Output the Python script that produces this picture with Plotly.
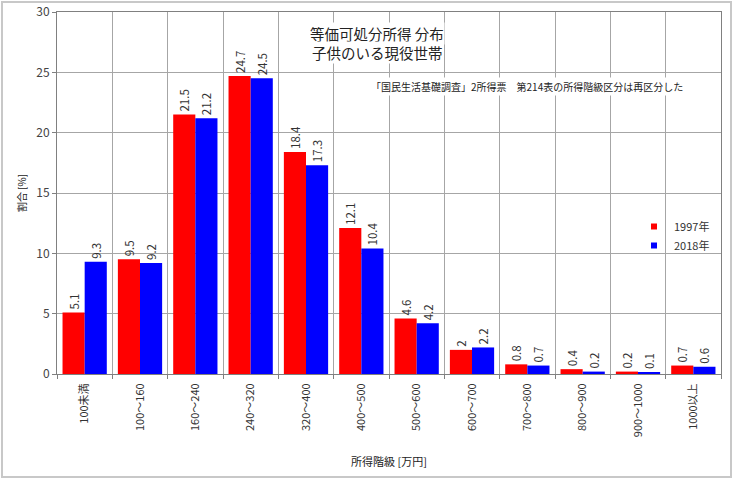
import plotly.graph_objects as go

categories = ["100未満", "100～160", "160～240", "240～320", "320～400", "400～500",
              "500～600", "600～700", "700～800", "800～900", "900～1000", "1000以上"]
values_1997 = [5.1, 9.5, 21.5, 24.7, 18.4, 12.1, 4.6, 2, 0.8, 0.4, 0.2, 0.7]
values_2018 = [9.3, 9.2, 21.2, 24.5, 17.3, 10.4, 4.2, 2.2, 0.7, 0.2, 0.1, 0.6]
series_names = ["1997年", "2018年"]
y_ticks = [0, 5, 10, 15, 20, 25, 30]

FONT = "Noto Sans CJK JP, Liberation Sans, sans-serif"
W, H = 734, 480
ML, MR, MT, MB = 57, 13, 12, 106
PW, PH = W - ML - MR, H - MT - MB

colors = ["#ff0000", "#0000ff"]

fig = go.Figure()
for name, vals, col in zip(series_names, [values_1997, values_2018], colors):
    fig.add_trace(go.Bar(
        x=categories, y=vals, name=name, marker_color=col,
        marker_line_width=0, showlegend=False,
        text=[f"{v:g}" for v in vals], textposition="outside",
        textangle=-90, constraintext="none", cliponaxis=False,
        textfont=dict(size=11.5, color="#333333", family=FONT),
    ))
# legend entries (small square swatches)
for name, col in zip(series_names, colors):
    fig.add_trace(go.Scatter(
        x=[None], y=[None], mode="markers", name=name,
        marker=dict(symbol="square", size=6, color=col),
    ))

def px_to_paper_x(px):
    return (px - ML) / PW

def px_to_paper_y(py):
    return (H - MB - py) / PH

fig.update_layout(
    width=W, height=H,
    margin=dict(l=ML, r=MR, t=MT, b=MB, autoexpand=False),
    paper_bgcolor="white", plot_bgcolor="white",
    barmode="group", bargap=0.2, bargroupgap=0,
    font=dict(family=FONT, color="#333333"),
    showlegend=True,
    legend=dict(x=px_to_paper_x(634), y=px_to_paper_y(212), xanchor="left", yanchor="top",
                font=dict(size=11, color="#333333", family=FONT),
                bgcolor="rgba(0,0,0,0)", itemwidth=30, tracegroupgap=0,
                borderwidth=0),
    xaxis=dict(
        type="category", tickson="boundaries", showgrid=True,
        gridcolor="#a6a6a6", gridwidth=1, automargin=False,
        ticks="outside", ticklen=4, tickcolor="#808080",
        tickangle=-90, tickfont=dict(size=11, color="#333333", family=FONT),
        ticklabelstandoff=4,
        showline=True, linecolor="#808080", mirror=True,
        title=dict(text="所得階級 [万円]", font=dict(size=11, color="#222222", family=FONT),
                   standoff=22),
    ),
    yaxis=dict(
        range=[0, 30], tickvals=y_ticks, showgrid=True,
        gridcolor="#a6a6a6", gridwidth=1, automargin=False,
        ticks="outside", ticklen=4, tickcolor="#808080",
        tickfont=dict(size=12, color="#444444", family=FONT),
        showline=True, linecolor="#808080", mirror=True, zeroline=False,
        title=dict(text="割合 [%]", font=dict(size=10, color="#222222", family=FONT),
                   standoff=7),
    ),
    annotations=[
        dict(text="等価可処分所得 分布", xref="paper", yref="paper",
             x=px_to_paper_x(377), y=px_to_paper_y(33), xanchor="center", yanchor="middle",
             showarrow=False, borderpad=0,
             font=dict(size=14.5, color="#222222", family=FONT), bgcolor="white"),
        dict(text="子供のいる現役世帯", xref="paper", yref="paper",
             x=px_to_paper_x(377), y=px_to_paper_y(52), xanchor="center", yanchor="middle",
             showarrow=False, borderpad=0,
             font=dict(size=14.5, color="#222222", family=FONT), bgcolor="white"),
        dict(text="「国民生活基礎調査」2所得票　第214表の所得階級区分は再区分した",
             xref="paper", yref="paper",
             x=px_to_paper_x(527), y=px_to_paper_y(87), xanchor="center", yanchor="middle",
             showarrow=False,
             font=dict(size=10, color="#222222", family=FONT), bgcolor="white"),
    ],
    shapes=[
        dict(type="rect", xref="paper", yref="paper",
             x0=px_to_paper_x(2), x1=px_to_paper_x(731),
             y0=px_to_paper_y(477), y1=px_to_paper_y(2),
             line=dict(color="#c8c8c8", width=2), layer="below"),
    ],
)

fig.write_html("out.html", config={"displayModeBar": False},
               post_script="document.body.style.margin='0';document.body.style.padding='0';")
